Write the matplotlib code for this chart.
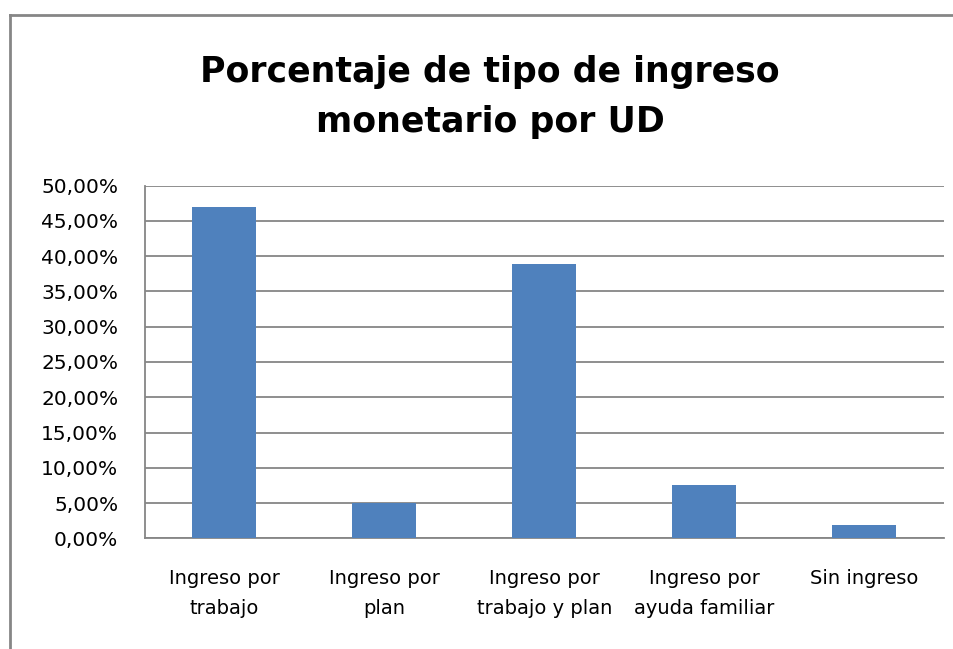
import matplotlib
matplotlib.use("Agg")
import matplotlib.pyplot as plt
from matplotlib.lines import Line2D
from matplotlib.ticker import FuncFormatter

# data
categorias = ["Ingreso por\ntrabajo", "Ingreso por\nplan", "Ingreso por\ntrabajo y plan",
              "Ingreso por\nayuda familiar", "Sin ingreso"]
porcentajes = [47.0, 5.0, 38.9, 7.55, 1.9]
titulo = "Porcentaje de tipo de ingreso\nmonetario por UD"

bar_color = "#4F81BD"
grid_color = "#868686"

fig = plt.figure(figsize=(9.54, 6.49), dpi=100)
ax = fig.add_axes([0.1515, 0.1706, 0.838, 0.5433])

x = range(len(categorias))
ax.bar(x, porcentajes, width=0.4, color=bar_color, zorder=3)

ax.set_xlim(-0.5, len(categorias) - 0.5)
ax.set_ylim(0, 50)
ax.set_yticks(range(0, 51, 5))
ax.yaxis.set_major_formatter(FuncFormatter(lambda v, p: f"{v:.2f}%".replace(".", ",")))
ax.set_xticks(list(x))
ax.set_xticklabels(categorias, fontsize=14, linespacing=1.75)

ax.grid(axis="y", color=grid_color, linewidth=1.3, zorder=0)
ax.tick_params(axis="y", length=0, pad=19, labelsize=14.5)
ax.tick_params(axis="x", length=0, pad=22)

for side in ["top", "right"]:
    ax.spines[side].set_visible(False)
for side in ["left", "bottom"]:
    ax.spines[side].set_color(grid_color)
    ax.spines[side].set_linewidth(1.3)

fig.text(490 / 954, 1 - 97 / 649, titulo, ha="center", va="center",
         fontsize=25, fontweight="bold", linespacing=1.6)

# outer chart border (only top and left edges are visible)
fig.add_artist(Line2D([10 / 954, 10 / 954], [0, 1 - 15 / 649], color=grid_color, lw=2,
                      transform=fig.transFigure))
fig.add_artist(Line2D([10 / 954, 1], [1 - 15 / 649, 1 - 15 / 649], color=grid_color, lw=2,
                      transform=fig.transFigure))

plt.savefig("out.png", dpi=100)
